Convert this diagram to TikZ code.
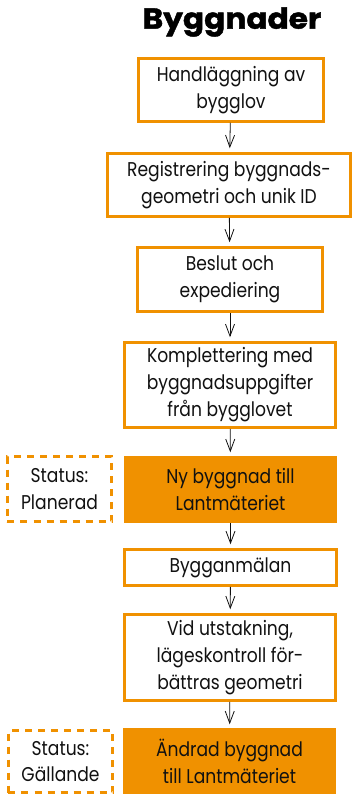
\documentclass[tikz,border=0pt]{standalone}
\usepackage{fontspec}
\setmainfont{Poppins}[FakeStretch=0.86]
\newfontfamily\titlefont{Poppins}[FakeStretch=1.08,BoldFeatures={FakeBold=1.5}]
\usetikzlibrary{arrows.meta}
\definecolor{orng}{RGB}{240,145,0}
\definecolor{ink}{RGB}{17,17,17}
\tikzset{
  flowbox/.style={draw=orng, line width=2.5bp, fill=white, align=center, inner sep=0pt, text=ink,
    font=\fontsize{20}{27}\selectfont},
  fillbox/.style={flowbox, fill=orng},
  statusbox/.style={draw=orng, line width=2.5bp, dash pattern=on 7bp off 6bp, align=center, inner sep=0pt, text=ink,
    font=\fontsize{20}{27}\selectfont},
  flowarrow/.style={draw=ink, line width=0.8bp, -{Straight Barb[length=12bp,width=9bp]}, shorten >=4bp}
}
\begin{document}
\begin{tikzpicture}[x=1bp,y=-1bp]
\useasboundingbox (0,0) rectangle (352,795);
\node[font=\titlefont\bfseries\fontsize{29}{30}\selectfont] (title) at (232,22) {Byggnader};
\node[flowbox, minimum width=185bp, minimum height=63bp] (b1) at (231,90) {Handläggning av\\bygglov};
\node[flowbox, minimum width=243bp, minimum height=63bp] (b2) at (229,185) {Registrering byggnads-\\geometri och unik ID};
\node[flowbox, minimum width=185bp, minimum height=64bp] (b3) at (230,279.5) {Beslut och\\expediering};
\node[flowbox, minimum width=211bp, minimum height=85bp] (b4) at (230,385) {Komplettering med\\byggnadsuppgifter\\från bygglovet};
\node[fillbox, minimum width=211bp, minimum height=64bp] (b5) at (230.5,489.5) {Ny byggnad till\\Lantmäteriet};
\node[statusbox, minimum width=104bp, minimum height=65bp] (s1) at (59.5,489) {Status:\\Planerad};
\node[flowbox, minimum width=212bp, minimum height=36bp] (b6) at (230.5,567.5) {Bygganmälan};
\node[flowbox, minimum width=211bp, minimum height=86bp] (b7) at (230,657.5) {Vid utstakning,\\lägeskontroll för-\\bättras geometri};
\node[fillbox, minimum width=210bp, minimum height=63bp] (b8) at (229.5,761) {Ändrad byggnad\\till Lantmäteriet};
\node[statusbox, minimum width=104bp, minimum height=62bp] (s2) at (60.5,761.5) {Status:\\Gällande};
\draw[flowarrow] (b1) -- (b2);
\draw[flowarrow] (b2) -- (b3);
\draw[flowarrow] (b3) -- (b4);
\draw[flowarrow] (b4) -- (b5);
\draw[flowarrow] (b5) -- (b6);
\draw[flowarrow] (b6) -- (b7);
\draw[flowarrow] (b7) -- (b8);
\end{tikzpicture}
\end{document}
